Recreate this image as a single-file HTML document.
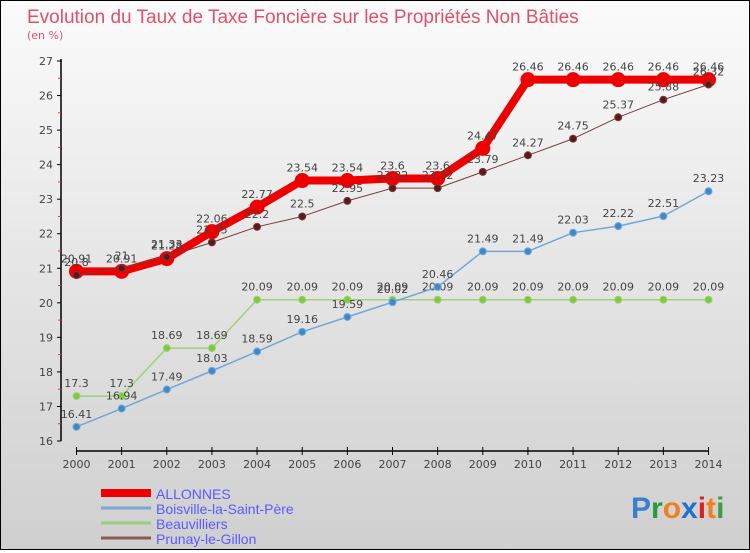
<!DOCTYPE html>
<html><head><meta charset="utf-8"><style>
body{margin:0}
#c{width:748px;height:548px;border:1px solid #000;background:linear-gradient(#fbfbfb,#cfcfcf);position:relative;font-family:"DejaVu Sans","Liberation Sans",sans-serif}
</style></head><body>
<div id="c">
<svg id="s" width="748" height="548" xmlns="http://www.w3.org/2000/svg">
<text x="26" y="22" font-size="19" fill="#e0506a" font-family="Liberation Sans, sans-serif">Evolution du Taux de Taxe Foncière sur les Propriétés Non Bâties</text>
<text x="26" y="38" font-size="11" fill="#e0506a">(en %)</text>
<g id="g"></g>
<text x="630" y="517" font-size="30" font-weight="bold" font-family="Liberation Sans, sans-serif"><tspan fill="#3a7fd0">P</tspan><tspan fill="#2a9a3a">r</tspan><tspan fill="#f08020">o</tspan><tspan fill="#2070d0">x</tspan><tspan fill="#e02020">i</tspan><tspan fill="#f08020">t</tspan><tspan fill="#3aa040">i</tspan></text>
</svg>
</div>
<script>
const years=[2000,2001,2002,2003,2004,2005,2006,2007,2008,2009,2010,2011,2012,2013,2014];
const yTicks=[16,17,18,19,20,21,22,23,24,25,26,27];
const allonnes=[20.91,20.91,21.28,22.06,22.77,23.54,23.54,23.6,23.6,24.47,26.46,26.46,26.46,26.46,26.46];
const boisville=[16.41,16.94,17.49,18.03,18.59,19.16,19.59,20.02,20.46,21.49,21.49,22.03,22.22,22.51,23.23];
const beauvilliers=[17.3,17.3,18.69,18.69,20.09,20.09,20.09,20.09,20.09,20.09,20.09,20.09,20.09,20.09,20.09];
const prunay=[20.8,21.0,21.33,21.75,22.2,22.5,22.95,23.32,23.32,23.79,24.27,24.75,25.37,25.88,26.32];
const names=["ALLONNES","Boisville-la-Saint-Père","Beauvilliers","Prunay-le-Gillon"];
const NS="http://www.w3.org/2000/svg",g=document.getElementById('g');
const X=i=>75.5+i*(632/14), Y=v=>440-(v-16)*(380/11);
function el(t,a,p){const e=document.createElementNS(NS,t);for(const k in a)e.setAttribute(k,a[k]);(p||g).appendChild(e);return e;}
function txt(x,y,s,a){const e=el('text',Object.assign({x:x,y:y,'font-size':11,fill:'#444','text-anchor':'middle'},a||{}));e.textContent=s;return e;}
// axes
let ya=el('line',{x1:60,y1:Y(27)-2,x2:60,y2:440,stroke:'#000','stroke-width':1.5});


yTicks.forEach(v=>{el('line',{x1:56,x2:60,y1:Y(v),y2:Y(v),stroke:'#000'});
 if(v<27)el('line',{x1:57,x2:60,y1:Y(v+.5),y2:Y(v+.5),stroke:'#e33'});
 let t=txt(52,Y(v)+4,v,{'text-anchor':'end'});
 
 });
let xa=el('line',{x1:75,y1:450,x2:708,y2:450,stroke:'#000','stroke-width':1.5});


years.forEach((y,i)=>{el('line',{x1:X(i),x2:X(i),y1:446,y2:454,stroke:'#000'});
 let t=txt(X(i),467,y,{'font-size':11});
 
 });
function fmt(v){return String(v).replace(/^(\d\d)\.(\d\d)$/,'$1.$2');}
function series(d,col,w,r,dot,nm,below){
 const gg=el('g',{});
 
 
 el('polyline',{points:d.map((v,i)=>X(i)+','+Y(v)).join(' '),fill:'none',stroke:col,'stroke-width':w,'stroke-linejoin':'round'},gg);
 d.forEach((v,i)=>{const c=el('circle',{cx:X(i),cy:Y(v),r:r,fill:dot,stroke:col},gg);
  
  
  const t=txt(X(i),Y(v)+(below?16:-9),fmt(v),{},);gg.appendChild(t);});
}
series(beauvilliers,'#9fd07a',1.5,3.5,'#7ccc3a','series-beauvilliers');
series(boisville,'#6fa8d8',1.5,3.5,'#3c8ac8','series-boisville');
series(allonnes,'#ee0000',8,7,'#ee0000','series-allonnes');
series(prunay,'#7a3a3a',1,3.5,'#5a1a1a','series-prunay');
// legend
const lc=['#ee0000','#7aa8d0','#99d07a','#8a5a5a'],lw=[8,3,3,3];
names.forEach((n,i)=>{const y=491+i*15;
 el('line',{x1:100,x2:150,y1:y+1,y2:y+1,stroke:lc[i],'stroke-width':lw[i]});
 let t=txt(155,y+7,n,{'text-anchor':'start','font-size':14,fill:'#5a5aff','font-family':'Liberation Sans, sans-serif'});
 
 });
</script>
</body></html>
